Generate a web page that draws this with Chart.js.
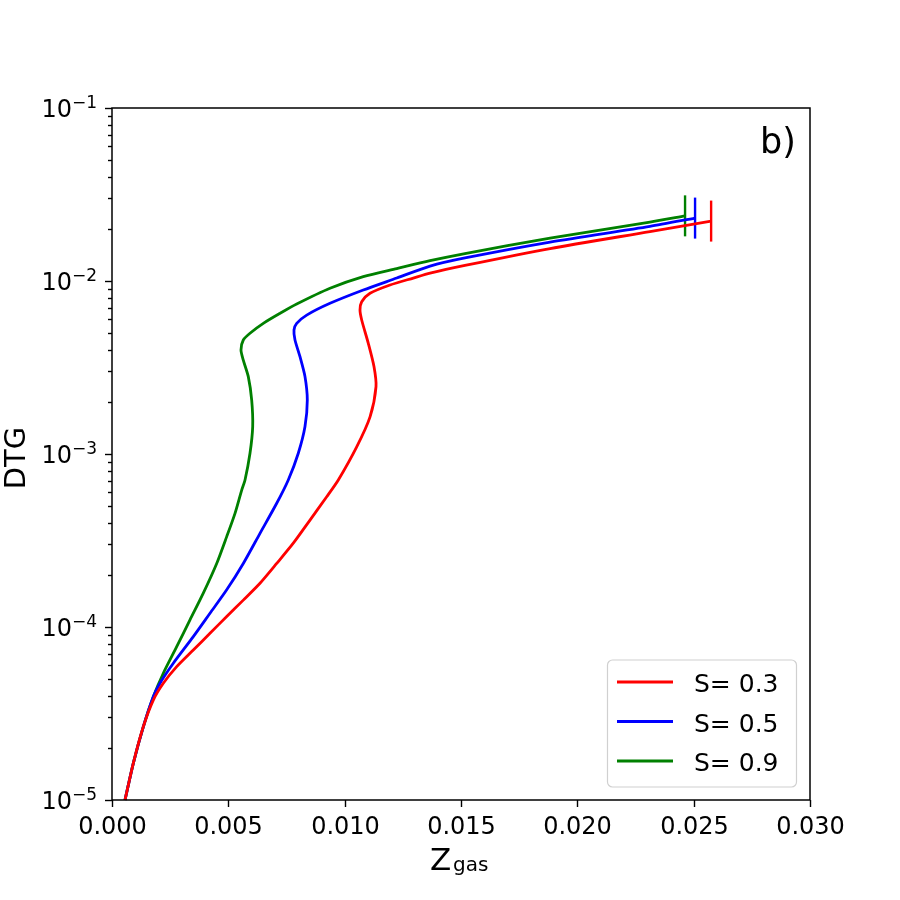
<!DOCTYPE html>
<html>
<head>
<meta charset="utf-8">
<script src="https://cdn.jsdelivr.net/npm/chart.js@4"></script>
<style>
  html, body { margin: 0; padding: 0; background: #fff; }
  #wrap { width: 900px; height: 900px; }
</style>
</head>
<body>
<div id="wrap"><canvas id="grafico" width="900" height="900"></canvas></div>
<script>
// valores (Z_gas, DTG)
const zRed   = [0.000559, 0.000915, 0.001345, 0.001775, 0.002205, 0.002781, 0.003494, 0.004212, 0.00493, 0.005643, 0.006361, 0.007079, 0.007792, 0.00851, 0.009228, 0.009727, 0.010517, 0.01109, 0.011347, 0.01126, 0.011016, 0.010732, 0.010659, 0.010732, 0.01109, 0.01195, 0.01295, 0.01367, 0.01517, 0.01883, 0.02312, 0.02575];
const dtgRed = [1.0e-5, 1.63e-5, 2.65e-5, 3.78e-5, 4.73e-5, 5.90e-5, 7.36e-5, 9.20e-5, 1.15e-4, 1.43e-4, 1.79e-4, 2.33e-4, 3.05e-4, 4.15e-4, 5.66e-4, 7.08e-4, 1.10e-3, 1.64e-3, 2.45e-3, 3.20e-3, 4.36e-3, 5.95e-3, 6.79e-3, 7.59e-3, 8.49e-3, 9.48e-3, 1.04e-2, 1.11e-2, 1.23e-2, 1.54e-2, 1.93e-2, 2.22e-2];

const zBlue   = [0.000559, 0.000915, 0.001345, 0.001775, 0.002063, 0.002635, 0.003494, 0.004212, 0.00493, 0.005643, 0.006361, 0.007079, 0.007577, 0.008007, 0.008295, 0.008394, 0.008295, 0.00808, 0.007865, 0.007822, 0.007938, 0.008368, 0.00937, 0.0108, 0.01224, 0.01367, 0.01517, 0.01883, 0.02312, 0.02506];
const dtgBlue = [1.0e-5, 1.63e-5, 2.65e-5, 3.95e-5, 4.73e-5, 6.17e-5, 8.79e-5, 1.20e-4, 1.64e-4, 2.33e-4, 3.48e-4, 5.19e-4, 7.08e-4, 1.01e-3, 1.44e-3, 2.05e-3, 2.80e-3, 3.65e-3, 4.56e-3, 5.21e-3, 5.69e-3, 6.35e-3, 7.43e-3, 8.87e-3, 1.04e-2, 1.22e-2, 1.36e-2, 1.68e-2, 2.07e-2, 2.31e-2];

const zGreen   = [0.000559, 0.000915, 0.001345, 0.001775, 0.002205, 0.002781, 0.003352, 0.003924, 0.0045, 0.00493, 0.005287, 0.005575, 0.005717, 0.005931, 0.006047, 0.006004, 0.005858, 0.005643, 0.005544, 0.005643, 0.005931, 0.006503, 0.007221, 0.007938, 0.00937, 0.0108, 0.01224, 0.01367, 0.01517, 0.01883, 0.02312, 0.02463];
const dtgGreen = [1.0e-5, 1.63e-5, 2.65e-5, 3.95e-5, 5.40e-5, 7.69e-5, 1.10e-4, 1.57e-4, 2.33e-4, 3.33e-4, 4.54e-4, 6.19e-4, 7.08e-4, 1.01e-3, 1.44e-3, 2.05e-3, 2.80e-3, 3.49e-3, 3.99e-3, 4.56e-3, 4.99e-3, 5.69e-3, 6.50e-3, 7.36e-3, 9.08e-3, 1.06e-2, 1.18e-2, 1.31e-2, 1.44e-2, 1.77e-2, 2.19e-2, 2.38e-2];

const rotulos = ["S= 0.3", "S= 0.5", "S= 0.9"];
const cores = ["#ff0000", "#0000ff", "#008000"];
const xTicks = [0, 0.005, 0.01, 0.015, 0.02, 0.025, 0.03];
const yDecadas = [-5, -4, -3, -2, -1];

const FONTE = "'DejaVu Sans', sans-serif";

function serie(zs, ds, i) {
    const pts = zs.map((z, k) => ({ x: z, y: ds[k] }));
    const ultimo = pts.length - 1;
    return {
        label: rotulos[i],
        data: pts,
        showLine: true,
        borderColor: cores[i],
        backgroundColor: cores[i],
        borderWidth: 2.8,
        tension: 0.25,
        pointStyle: 'line',
        rotation: 90,
        pointRadius: ctx => ctx.dataIndex === ultimo ? 20.5 : 0,
        pointHoverRadius: 0,
        pointBorderWidth: 2.4,
        pointBorderColor: cores[i],
        clip: false
    };
}

// moldura, ticks, legenda e textos
const extras = {
    id: 'extras',
    afterDraw(chart) {
        const c = chart.ctx;
        const a = chart.chartArea;
        const sx = chart.scales.x;
        const sy = chart.scales.y;
        c.save();
        c.strokeStyle = '#000';
        c.fillStyle = '#000';
        c.lineWidth = 1.5;
        c.strokeRect(a.left, a.top, a.right - a.left, a.bottom - a.top);

        // eixo x
        c.lineWidth = 1.4;
        c.font = '24px ' + FONTE;
        c.textAlign = 'center';
        c.textBaseline = 'alphabetic';
        xTicks.forEach(v => {
            const px = Math.round(sx.getPixelForValue(v)) + 0.5;
            c.beginPath();
            c.moveTo(px, a.bottom);
            c.lineTo(px, a.bottom + 7);
            c.stroke();
            c.fillText(v.toFixed(3), px, 834);
        });

        // eixo y (maiores e menores)
        yDecadas.forEach(e => {
            for (let m = 1; m <= 9; m++) {
                if (e === -1 && m > 1) break;
                const py = Math.round(sy.getPixelForValue(m * Math.pow(10, e))) + 0.5;
                const len = m === 1 ? 7 : 4;
                c.beginPath();
                c.moveTo(a.left - len, py);
                c.lineTo(a.left, py);
                c.stroke();
            }
            const py = sy.getPixelForValue(Math.pow(10, e));
            const expo = '\u2212' + Math.abs(e);
            c.textAlign = 'right';
            c.textBaseline = 'alphabetic';
            c.font = '17px ' + FONTE;
            const wExp = c.measureText(expo).width;
            c.fillText(expo, 97, py);
            c.font = '24px ' + FONTE;
            c.fillText('10', 97 - wExp, py + 9);
        });

        // título eixo y
        c.save();
        c.translate(25, 458);
        c.rotate(-Math.PI / 2);
        c.font = '29px ' + FONTE;
        c.textAlign = 'center';
        c.textBaseline = 'alphabetic';
        c.fillText('DTG', 0, 0);
        c.restore();

        // título eixo x: Z_gas
        c.textAlign = 'left';
        c.textBaseline = 'alphabetic';
        c.font = '31px ' + FONTE;
        c.fillText('Z', 430, 870);
        c.font = '20px ' + FONTE;
        c.fillText('gas', 453, 871);

        // rótulo do painel
        c.font = '35px ' + FONTE;
        c.fillText('b)', 760, 153);

        // legenda
        const bx = 607.5, by = 660, bw = 189, bh = 127;
        c.fillStyle = 'rgba(255,255,255,0.8)';
        c.strokeStyle = '#d0d0d0';
        c.lineWidth = 1.2;
        c.beginPath();
        c.roundRect(bx, by, bw, bh, 5);
        c.fill();
        c.stroke();
        chart.data.datasets.forEach((ds, i) => {
            const ly = 682 + i * 39.5;
            c.strokeStyle = ds.borderColor;
            c.lineWidth = 2.8;
            c.beginPath();
            c.moveTo(617, ly);
            c.lineTo(673, ly);
            c.stroke();
            c.fillStyle = '#000';
            c.font = '25px ' + FONTE;
            c.textAlign = 'left';
            c.textBaseline = 'alphabetic';
            c.fillText(ds.label, 694, ly + 10);
        });
        c.restore();
    }
};

new Chart(document.getElementById('grafico').getContext('2d'), {
    type: 'scatter',
    data: {
        datasets: [
            serie(zRed, dtgRed, 0),
            serie(zBlue, dtgBlue, 1),
            serie(zGreen, dtgGreen, 2)
        ]
    },
    options: {
        responsive: false,
        animation: false,
        layout: { padding: { top: 108, right: 90, left: 0, bottom: 0 } },
        plugins: { legend: { display: false }, tooltip: { enabled: false } },
        scales: {
            x: {
                type: 'linear',
                min: 0,
                max: 0.03,
                afterFit: s => { s.height = 100; },
                border: { display: false },
                grid: { display: false },
                ticks: { display: false }
            },
            y: {
                type: 'logarithmic',
                min: 1e-5,
                max: 1e-1,
                afterFit: s => { s.width = 112; },
                border: { display: false },
                grid: { display: false },
                ticks: { display: false }
            }
        }
    },
    plugins: [extras]
});
</script>
</body>
</html>
